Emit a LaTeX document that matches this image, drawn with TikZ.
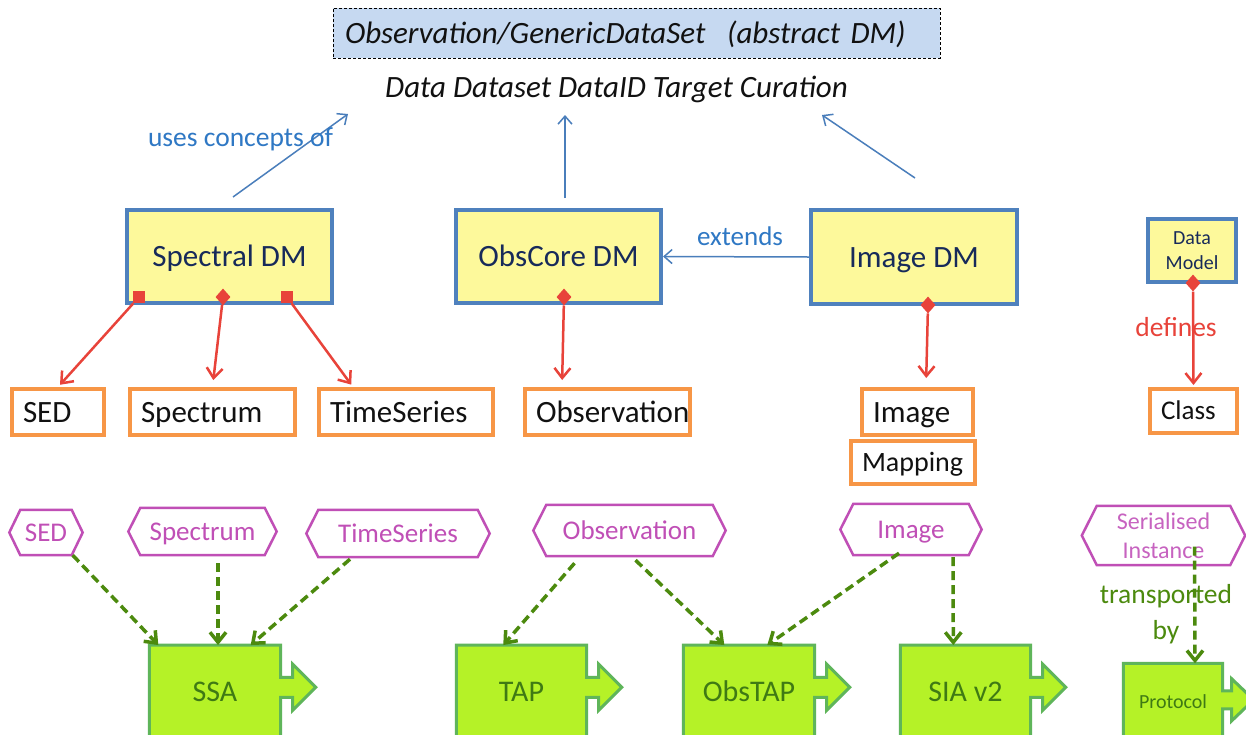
\documentclass[tikz,border=0pt]{standalone}
\usepackage{fontspec}
\setmainfont{Carlito}
\usetikzlibrary{arrows.meta,calc,shapes.geometric,backgrounds}
\definecolor{dmfill}{HTML}{FDF99B}
\definecolor{dmborder}{HTML}{4F81BD}
\definecolor{dmtext}{HTML}{172A5A}
\definecolor{barr}{HTML}{4A7EBB}
\definecolor{btext}{HTML}{2F78C4}
\definecolor{rd}{HTML}{E8433A}
\definecolor{orng}{HTML}{F79646}
\definecolor{otext}{HTML}{111111}
\definecolor{mag}{HTML}{C04FB6}
\definecolor{magl}{HTML}{C763C0}
\definecolor{gdash}{HTML}{4C8A0E}
\definecolor{limefill}{HTML}{B5F227}
\definecolor{gborder}{HTML}{5FB55A}
\definecolor{gtext}{HTML}{3F7A14}
\definecolor{titlefill}{HTML}{C6D9F1}
\newcommand\procshape[6]{%
  \path[gboxline] (#1.north west) -- (#1.north east) -- ($(#1.north east)+(0,#2-#3)$) -- ++(#5,0) -- ++(0,#3-#4) -- ($(#1.north east)+(#6,#2)$) -- ($(#1.north east)+(#5,#2+#4)$) -- ++(0,#3-#4) -- ($(#1.north east)+(0,#2+#3)$) -- (#1.south east) -- (#1.south west) -- cycle;}
\begin{document}
\begin{tikzpicture}[x=1pt,y=-1pt,
  dm/.style={draw=dmborder,line width=4pt,fill=dmfill,text=dmtext,inner sep=0pt,font=\fontsize{31}{37}\selectfont},
  ob/.style={draw=orng,line width=4pt,fill=white,text=otext,inner xsep=11pt,inner ysep=0pt,align=left,font=\fontsize{31}{37}\selectfont},
  hexn/.style={inner sep=0pt,text=mag,font=\fontsize{27}{32}\selectfont},
  hexline/.style={draw=mag,line width=2.5pt,line join=miter},
  gbox/.style={inner sep=0pt,text=gtext,font=\fontsize{30}{36}\selectfont},
  gboxline/.style={fill=limefill,draw=gborder,line width=3pt},
  bluearr/.style={draw=barr,line width=1.5pt,-{Straight Barb[length=8pt,width=14pt]}},
  redarr/.style={draw=rd,line width=2.5pt,-{Straight Barb[length=10pt,width=16pt]}},
  grarr/.style={draw=gdash,line width=3.5pt,dash pattern=on 9pt off 5pt,-{Straight Barb[length=10pt,width=16pt]}},
  sqm/.style={rectangle,fill=rd,minimum size=12pt,inner sep=0pt},
  dmm/.style={diamond,fill=rd,minimum width=15pt,minimum height=17pt,inner sep=0pt},
  ch31/.style={text height=20pt,text depth=0pt},
  ch28/.style={text height=18pt,text depth=0pt},
  ch27/.style={text height=17.5pt,text depth=0pt},
  ch30/.style={text height=19.5pt,text depth=0pt},
  ch20/.style={text height=13pt,text depth=0pt}]
\useasboundingbox (0,0) rectangle (1246,734);
\clip (0,0) rectangle (1246,734);
\begin{scope}[on background layer]
  \fill[white] (0,0) rectangle (1246,734);
\end{scope}

% title
\node[draw=black,dashed,dash pattern=on 3pt off 2pt,line width=0.8pt,fill=titlefill,minimum width=607pt,minimum height=50pt,inner xsep=12pt,text width=583pt,align=left,font=\itshape\fontsize{31}{37}\selectfont,text=otext,ch31] (obs) at (636.5,33) {Observation/GenericDataSet\hspace{0.7em}(abstract DM)};
\node[font=\itshape\fontsize{31}{37}\selectfont,text=otext,inner sep=0pt,ch31] (dd) at (616.5,87) {Data Dataset DataID Target Curation};

% data models
\node[dm,ch31,minimum width=205pt,minimum height=93pt] (spec) at (229.5,256.5) {Spectral DM};
\node[dm,ch31,minimum width=205pt,minimum height=93pt] (ocore) at (558.5,256.5) {ObsCore DM};
\node[dm,ch31,minimum width=206pt,minimum height=94pt] (imdm) at (914,257) {Image DM};
\node[dm,minimum width=88pt,minimum height=63pt,align=center,font=\fontsize{20}{25}\selectfont] (dmod) at (1192,250.5) {Data\\Model};

% classes
\node[ob,ch31,text width=70pt,minimum height=46pt] (sed) at (58,412) {SED};
\node[ob,ch31,text width=143pt,minimum height=46pt] (spectrum) at (212.5,412) {Spectrum};
\node[ob,ch31,text width=152pt,minimum height=46pt] (ts) at (406,412) {TimeSeries};
\node[ob,ch31,text width=143pt,minimum height=46pt] (obsv) at (607.5,412) {Observation};
\node[ob,ch31,text width=89pt,minimum height=46pt] (imgb) at (917.5,412) {Image};
\node[ob,ch28,text width=102pt,minimum height=43pt,font=\fontsize{28}{33}\selectfont] (mapb) at (913,462.5) {Mapping};
\node[ob,ch27,text width=65pt,minimum height=44pt,font=\fontsize{27}{32}\selectfont] (cls) at (1193.5,411) {Class};

% blue connectors
\coordinate (u1) at (348,114);
\coordinate (u2) at (565,115);
\coordinate (u3) at (822,115);
\draw[bluearr] ($(spec.north)+(3.5,-11)$) -- (u1);
\draw[bluearr] ($(ocore.north)+(6.5,-10)$) -- (u2);
\draw[bluearr] ($(imdm.north)+(1,-30)$) -- (u3);
\node[text=btext,font=\fontsize{27.5}{33}\selectfont,inner sep=0pt,ch27] (uses) at (240.5,138) {uses concepts of};
\draw[bluearr] (imdm.west) -- (ocore.east);
\node[text=btext,font=\fontsize{27}{32}\selectfont,inner sep=0pt,ch27] (ext) at (740,237) {extends};

% red composition connectors
\node[sqm] (m1) at (139,297) {};
\node[dmm] (m2) at (223,297) {};
\node[sqm] (m3) at (287,297) {};
\node[dmm] (m4) at (564,297) {};
\node[dmm] (m5) at (928,305) {};
\node[text=rd,font=\fontsize{27.5}{33}\selectfont,inner sep=0pt,ch27] (defl) at (1176,328) {defines};
\node[dmm] (m6) at (1193,283) {};
\draw[redarr,shorten >=3pt] (m1) -- (sed.north);
\draw[redarr,shorten >=7pt] (m2) -- (spectrum.north);
\draw[redarr,shorten >=3pt] (m3) -- ($(ts.north west)+(36,0)$);
\draw[redarr,shorten >=7pt] (m4) -- ($(obsv.north west)+(39,0)$);
\draw[redarr,shorten >=9pt] (m5) -- ($(imgb.north west)+(66,0)$);
\draw[redarr,shorten >=2pt] (m6) -- (cls.north);

% serialised format hexagons
\node[hexn,ch27,minimum width=73pt,minimum height=45pt] (hsed) at (46,532.5) {SED};
\node[hexn,ch27,minimum width=148pt,minimum height=47pt] (hspec) at (202.5,531.5) {Spectrum};
\node[hexn,ch27,minimum width=183pt,minimum height=47pt] (hts) at (398,533.5) {TimeSeries};
\node[hexn,ch27,minimum width=192pt,minimum height=51pt] (hobs) at (629.5,530.5) {Observation};
\node[hexn,ch27,minimum width=141pt,minimum height=51pt] (himg) at (911,529.5) {Image};
\node[hexn,minimum width=163pt,minimum height=59pt,align=center,text=magl,font=\fontsize{24}{29}\selectfont] (hser) at (1163.5,535.5) {Serialised\\Instance};
\foreach \n/\d in {hsed/11,hspec/12,hts/12,hobs/13,himg/13,hser/15}{
  \draw[hexline] (\n.west) -- ($(\n.north west)+(\d,0)$) -- ($(\n.north east)+(-\d,0)$) -- (\n.east) -- ($(\n.south east)+(-\d,0)$) -- ($(\n.south west)+(\d,0)$) -- cycle;
}

% protocols
\node[gbox,ch30,minimum width=131pt,minimum height=93.5pt] (ssa) at (215,692) {SSA};
\node[gbox,ch30,minimum width=130pt,minimum height=93.5pt] (tap) at (521.5,692) {TAP};
\node[gbox,ch30,minimum width=131pt,minimum height=93.5pt] (obstap) at (749,692) {ObsTAP};
\node[gbox,ch30,minimum width=130pt,minimum height=93.5pt] (siav) at (965.5,692) {SIA v2};
\node[gbox,ch20,minimum width=99pt,minimum height=76.5pt,font=\fontsize{20}{24}\selectfont] (proto) at (1173,701.75) {Protocol};
\begin{scope}[on background layer]
  \procshape{ssa}{42.25}{10}{23}{12}{35}
  \procshape{tap}{42.25}{10}{23}{12}{35}
  \procshape{obstap}{42.25}{10}{23}{12}{35}
  \procshape{siav}{42.25}{10}{23}{12}{35}
  \procshape{proto}{36.5}{9}{21}{9}{31}
\end{scope}

\node[text=gdash,font=\fontsize{27.5}{36}\selectfont,align=center,inner sep=0pt] (tb) at (1166,614) {transported\\by};

% green transport connectors
\draw[grarr] ($(hsed.south east)+(-10,0)$) -- ($(ssa.north west)+(9,0)$);
\draw[grarr] ($(hspec.south)+(15.5,8)$) -- ($(ssa.north)+(3,0)$);
\draw[grarr] ($(hts.south)+(-48,2)$) -- ($(ssa.north east)+(-30,0)$);
\draw[grarr] ($(hobs.south)+(-55,7)$) -- ($(tap.north west)+(47,0)$);
\draw[grarr] ($(hobs.south)+(6,4)$) -- ($(obstap.north west)+(41,0)$);
\draw[grarr] ($(himg.south)+(-12,-2)$) -- ($(obstap.north west)+(84,0)$);
\draw[grarr] ($(himg.south)+(42,2)$) -- ($(siav.north west)+(53,0)$);
\draw[grarr] ($(hser.center)+(31,11)$) -- ($(proto.north)+(22,0)$);
\end{tikzpicture}
\end{document}
